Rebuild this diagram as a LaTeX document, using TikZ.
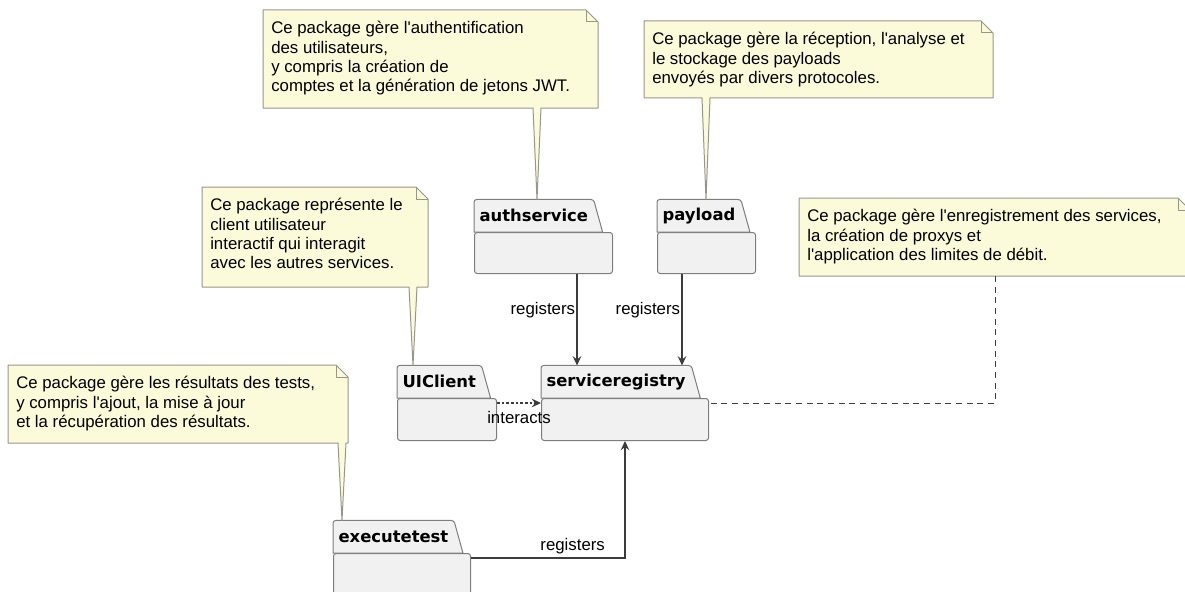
\documentclass[tikz,border=0pt]{standalone}
\usepackage{fontspec}
\setmainfont{Liberation Sans}
\newfontfamily\pkgfont{DejaVu Sans}
\usetikzlibrary{arrows.meta,calc,backgrounds}
\definecolor{uml_note}{RGB}{251,251,217}
\definecolor{uml_noteline}{RGB}{150,150,140}
\definecolor{uml_pkg}{RGB}{241,241,241}
\definecolor{uml_pkgline}{RGB}{125,125,125}
\definecolor{uml_arrow}{RGB}{60,60,60}
\newcommand{\apos}{\textquotesingle}
\tikzstyle{nt}=[anchor=north west,align=left,inner xsep=6pt,inner ysep=8.4pt,
  font=\fontsize{12.6}{14.5}\selectfont]
\tikzstyle{ntshape}=[fill=uml_note,draw=uml_noteline,line width=0.75pt,line join=round]
\tikzstyle{pkg}=[anchor=north west,rectangle,rounded corners=2pt,fill=uml_pkg,
  draw=uml_pkgline,line width=0.75pt]
\tikzstyle{tab}=[anchor=south west,inner xsep=4pt,inner ysep=0pt,minimum height=24pt,
  font=\pkgfont\fontsize{12.3}{14}\bfseries\selectfont]
\tikzstyle{tabshape}=[fill=uml_pkg,draw=uml_pkgline,line width=0.75pt]
\tikzstyle{dep}=[draw=uml_arrow,line width=0.9pt,-{Stealth[length=7pt,width=6.5pt,inset=2.5pt]}]
\tikzstyle{lbl}=[font=\fontsize{12.6}{13}\selectfont,inner sep=1pt]
\tikzstyle{ntlink}=[draw=uml_arrow,line width=0.75pt,dash pattern=on 4.5pt off 3.5pt]
% note outline: name, width, height, tail offset, tail tip
\newcommand{\notebox}[5]{%
  \begin{scope}[on background layer]
    \filldraw[ntshape] (#1.north west) -- ++(#2-12,0) -- ++(12,12) -- ++(0,#3-12)
      -- ($(#1.north west)+(#4+4,#3)$) -- (#5) -- ($(#1.north west)+(#4-4,#3)$)
      -- ($(#1.north west)+(0,#3)$) -- cycle;
    \draw[ntshape,fill=none] ($(#1.north west)+(#2-12,0)$) -- ++(0,12) -- ++(12,0);
  \end{scope}}

\begin{document}
\begin{tikzpicture}[x=0.75pt,y=-0.75pt]
  \useasboundingbox (0,0) rectangle (1185,592);

  % packages
  \begin{scope}[on background layer]
    \node[pkg,minimum width=103.5pt,minimum height=30.75pt] (authservice) at (474,232) {};
    \node[pkg,minimum width=73.5pt,minimum height=30.75pt] (payload) at (657,232) {};
    \node[pkg,minimum width=125.25pt,minimum height=31.5pt] (serviceregistry) at (541,398) {};
    \node[pkg,minimum width=74.25pt,minimum height=31.5pt] (uiclient) at (397,398) {};
    \node[pkg,minimum width=102.75pt,minimum height=31.5pt] (executetest) at (333,553) {};
  \end{scope}
  \node[tab] (authtab) at (authservice.north west) {authservice};
  \node[tab] (paytab) at (payload.north west) {payload};
  \node[tab] (sregtab) at (serviceregistry.north west) {serviceregistry};
  \node[tab] (uitab) at (uiclient.north west) {UIClient};
  \node[tab] (extab) at (executetest.north west) {executetest};
  \begin{scope}[on background layer]
    \foreach \t in {authtab,paytab,sregtab,uitab,extab}{
      \filldraw[tabshape] (\t.south west) [rounded corners=2pt] -- (\t.north west)
        -- (\t.north east) [sharp corners] -- ($(\t.south east)+(9,0)$) -- cycle;
    }
  \end{scope}

  % notes
  \coordinate (authtip) at ($(authtab.north west)+(63,0)$);
  \coordinate (paytip) at ($(paytab.north west)+(49,0)$);
  \coordinate (uitip) at ($(uitab.north west)+(16,0)$);
  \coordinate (extip) at ($(extab.north west)+(9,0)$);
  \node[nt] (authnote) at (263,10) {Ce package gère l\apos authentification\\des utilisateurs,\\y compris la création de\\comptes et la génération de jetons JWT.};
  \notebox{authnote}{335}{98}{274}{authtip}
  \node[nt] (paynote) at (644,21) {Ce package gère la réception, l\apos analyse et\\le stockage des payloads\\envoyés par divers protocoles.};
  \notebox{paynote}{349}{77}{62}{paytip}
  \node[nt] (uinote) at (202,187) {Ce package représente le\\client utilisateur\\interactif qui interagit\\avec les autres services.};
  \notebox{uinote}{226}{100}{211}{uitip}
  \node[nt] (exnote) at (8,365) {Ce package gère les résultats des tests,\\y compris l\apos ajout, la mise à jour\\et la récupération des résultats.};
  \notebox{exnote}{340}{78}{334}{extip}
  \node[nt] (regnote) at (799,198) {Ce package gère l\apos enregistrement des services,\\la création de proxys et\\l\apos application des limites de débit.};
  \coordinate (regout) at ($(regnote.north west)+(196,78)$);
  \notebox{regnote}{391}{78}{196}{regout}

  % connectors
  \coordinate (authout) at ($(authservice.south west)+(103,0)$);
  \coordinate (payout) at ($(payload.south west)+(25,0)$);
  \coordinate (uiout) at ($(uiclient.north east)+(0,5)$);
  \coordinate (exout) at ($(executetest.north east)+(0,5)$);
  \coordinate (sregside) at ($(serviceregistry.north east)+(0,5)$);
  \draw[dep] (authout) -- (authout |- sregtab.north) node[lbl,pos=0.4,left] {registers};
  \draw[dep] (payout) -- (payout |- sregtab.north) node[lbl,pos=0.4,left] {registers};
  \draw[dep,dash pattern=on 2pt off 1.5pt] (uiout) -- (uiout -| serviceregistry.west)
    node[lbl,midway,below=5pt] {interacts};
  \draw[dep] (exout) -| (serviceregistry.south) node[lbl,pos=0.33,above=1.5pt] {registers};
  \draw[ntlink] (regout) |- (sregside);
\end{tikzpicture}
\end{document}
